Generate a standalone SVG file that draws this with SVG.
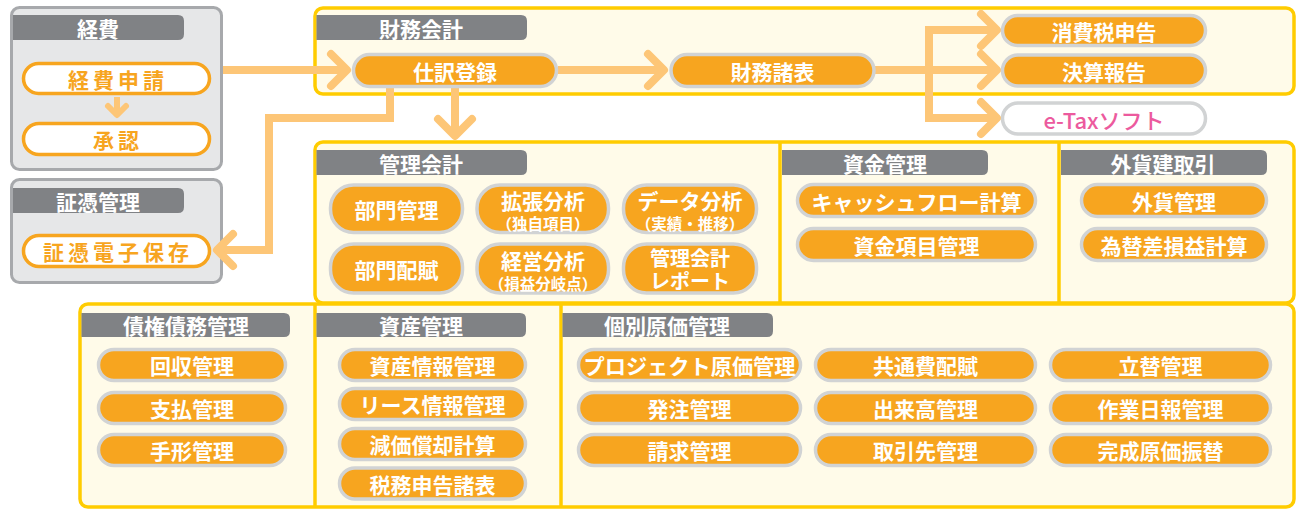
<svg xmlns="http://www.w3.org/2000/svg" width="1298" height="509" viewBox="0 0 1298 509">
<style>
text{font-family:"Noto Sans CJK JP","Noto Sans",sans-serif;font-weight:700;text-anchor:middle;dominant-baseline:central}
.gpanel{fill:#e6e7e8;stroke:#a7a9ac;stroke-width:3}
.ypanel{fill:#fffbe9;stroke:#ffcc00;stroke-width:3.5}
.div{stroke:#ffcc00;stroke-width:3.5}
.hdr{fill:#808285}
.ht{fill:#fff;font-size:21px}
.pill{fill:#f7a51f;stroke:#d1d3d4;stroke-width:3.5}
.wpill{fill:#fff;stroke:#f7a51f;stroke-width:3.5}
.epill{fill:#fff;stroke:#d1d3d4;stroke-width:3.5}
.pt{fill:#fff;font-size:21px}
.st{fill:#fff;font-size:15.5px}
.ot{fill:#f7a51f;font-size:21px;letter-spacing:4px}
.con{fill:none;stroke:#fdc677;stroke-width:8}
.chev{fill:none;stroke:#fdc677;stroke-width:8;stroke-linecap:round;stroke-linejoin:round}
</style>

<!-- panels -->
<g id="panel-keihi">
<rect class="gpanel" x="11.5" y="7.5" width="210" height="162" rx="8"/>
<path class="hdr" d="M13 15H178Q184 15 184 21V34Q184 40 178 40H13Z"/>
<text class="ht" x="98" y="27.5">経費</text>
</g>
<g id="panel-shohyo">
<rect class="gpanel" x="11.5" y="179.5" width="210" height="103" rx="8"/>
<path class="hdr" d="M13 188H178Q184 188 184 194V207Q184 213 178 213H13Z"/>
<text class="ht" x="98" y="200.5">証憑管理</text>
</g>
<g id="panel-zaimu">
<rect class="ypanel" x="315" y="8" width="979" height="86" rx="8"/>
<path class="hdr" d="M316.5 15H521Q527 15 527 21V34Q527 40 521 40H316.5Z"/>
<text class="ht" x="421" y="27.5">財務会計</text>
</g>
<g id="panel-middle">
<rect class="ypanel" x="315" y="142" width="979" height="161" rx="8"/>
<line class="div" x1="780" y1="142" x2="780" y2="303"/>
<line class="div" x1="1059" y1="142" x2="1059" y2="303"/>
</g>
<g id="panel-bottom">
<rect class="ypanel" x="80" y="304" width="1214" height="203" rx="8"/>
<line class="div" x1="315" y1="304" x2="315" y2="507"/>
<line class="div" x1="561" y1="304" x2="561" y2="507"/>
</g>
<g id="hdr-kanri">
<path class="hdr" d="M316.5 150H521Q527 150 527 156V169Q527 175 521 175H316.5Z"/>
<text class="ht" x="421" y="162.5">管理会計</text>
</g>
<g id="hdr-shikin">
<path class="hdr" d="M782 150H982Q988 150 988 156V169Q988 175 982 175H782Z"/>
<text class="ht" x="885" y="162.5">資金管理</text>
</g>
<g id="hdr-gaika">
<path class="hdr" d="M1061 150H1261Q1267 150 1267 156V169Q1267 175 1261 175H1061Z"/>
<text class="ht" x="1163" y="162.5">外貨建取引</text>
</g>
<g id="hdr-saiken">
<path class="hdr" d="M81.5 313H284Q290 313 290 319V331Q290 337 284 337H81.5Z"/>
<text class="ht" x="186" y="325">債権債務管理</text>
</g>
<g id="hdr-shisan">
<path class="hdr" d="M316.5 313H520Q526 313 526 319V331Q526 337 520 337H316.5Z"/>
<text class="ht" x="421" y="325">資産管理</text>
</g>
<g id="hdr-kobetsu">
<path class="hdr" d="M562.5 313H767Q773 313 773 319V331Q773 337 767 337H562.5Z"/>
<text class="ht" x="667" y="325">個別原価管理</text>
</g>

<!-- connectors -->
<g id="connectors">
<path class="con" d="M223 70H344"/>
<path class="chev" d="M331 54L347 70L331 86"/>
<path class="con" d="M558 70H661"/>
<path class="chev" d="M648 54L664 70L648 86"/>
<path class="con" d="M874 70H994"/>
<path class="con" d="M994 30H929V118H994"/>
<path class="chev" d="M981 14L997 30L981 46"/>
<path class="chev" d="M981 54L997 70L981 86"/>
<path class="chev" d="M981 102L997 118L981 134"/>
<path class="con" d="M455 88V133"/>
<path class="chev" d="M438 119L455 136L472 119"/>
<path class="con" d="M390 88V118H269V250H221"/>
<path class="chev" d="M233 234L217 250L233 266"/>
<path class="con" d="M117 97V112" style="stroke-width:6"/>
<path class="chev" d="M108 106L117 115L126 106" style="stroke-width:6"/>
</g>

<!-- pills -->
<g id="n-keihishinsei"><rect class="wpill" x="23.5" y="63.5" width="186" height="30" rx="15"/><text class="ot" x="118" y="78.5">経費申請</text></g>
<g id="n-shonin"><rect class="wpill" x="23.5" y="123.5" width="186" height="31" rx="15.5"/><text class="ot" x="118" y="139">承認</text></g>
<g id="n-denshi"><rect class="wpill" x="23.5" y="235.5" width="186" height="31" rx="15.5"/><text class="ot" x="118" y="251">証憑電子保存</text></g>

<g id="n-shiwake"><rect class="pill" x="353.5" y="54.5" width="203" height="32" rx="16"/><text class="pt" x="455" y="70.5">仕訳登録</text></g>
<g id="n-shohyo"><rect class="pill" x="671" y="54.5" width="203" height="32" rx="16"/><text class="pt" x="772.5" y="70.5">財務諸表</text></g>
<g id="n-shohizei"><rect class="pill" x="1002.5" y="15.5" width="203" height="30" rx="15"/><text class="pt" x="1104" y="30.5">消費税申告</text></g>
<g id="n-kessan"><rect class="pill" x="1002.5" y="55" width="203" height="31" rx="15.5"/><text class="pt" x="1104" y="70.5">決算報告</text></g>
<g id="n-etax"><rect class="epill" x="1002.5" y="103" width="203" height="31" rx="15.5"/><text x="1104" y="118.5" style="fill:#ec5a9e;font-size:22px;font-weight:500">e-Taxソフト</text></g>

<g id="n-bumon"><rect class="pill" x="330.5" y="185" width="132" height="47.5" rx="23"/><text class="pt" x="396.5" y="209">部門管理</text></g>
<g id="n-kakucho"><rect class="pill" x="477" y="185" width="131.5" height="47.5" rx="23"/><text class="pt" x="543" y="199.5">拡張分析</text><text class="st" x="543" y="223">（独自項目）</text></g>
<g id="n-data"><rect class="pill" x="623.5" y="185" width="133" height="47.5" rx="23"/><text class="pt" x="690" y="199.5">データ分析</text><text class="st" x="690" y="223">（実績・推移）</text></g>
<g id="n-haifu"><rect class="pill" x="330.5" y="244" width="132" height="49" rx="23"/><text class="pt" x="396.5" y="268.5">部門配賦</text></g>
<g id="n-keiei"><rect class="pill" x="477" y="244" width="131.5" height="49" rx="23"/><text class="pt" x="543" y="259.5">経営分析</text><text class="st" x="543" y="283">（損益分岐点）</text></g>
<g id="n-report"><rect class="pill" x="623.5" y="244" width="133" height="49" rx="23"/><text class="pt" style="font-size:20px"><tspan x="690" y="257">管理会計</tspan><tspan x="690" y="280">レポート</tspan></text></g>

<g id="n-cf"><rect class="pill" x="797.5" y="184.5" width="238" height="32" rx="16"/><text class="pt" x="916.5" y="200.5">キャッシュフロー計算</text></g>
<g id="n-shikinkomoku"><rect class="pill" x="797.5" y="228.5" width="238" height="32" rx="16"/><text class="pt" x="916.5" y="244.5">資金項目管理</text></g>
<g id="n-gaika"><rect class="pill" x="1081.5" y="184.5" width="185" height="32" rx="16"/><text class="pt" x="1174" y="200.5">外貨管理</text></g>
<g id="n-kawase"><rect class="pill" x="1081.5" y="228.5" width="185" height="32" rx="16"/><text class="pt" x="1174" y="244.5">為替差損益計算</text></g>

<g id="n-kaishu"><rect class="pill" x="98.5" y="349.5" width="187" height="31" rx="15.5"/><text class="pt" x="192" y="365">回収管理</text></g>
<g id="n-shiharai"><rect class="pill" x="98.5" y="392.5" width="187" height="31" rx="15.5"/><text class="pt" x="192" y="408">支払管理</text></g>
<g id="n-tegata"><rect class="pill" x="98.5" y="434.5" width="187" height="31" rx="15.5"/><text class="pt" x="192" y="450">手形管理</text></g>

<g id="n-shisanjoho"><rect class="pill" x="339.5" y="349.5" width="186" height="31" rx="15.5"/><text class="pt" x="432.5" y="365">資産情報管理</text></g>
<g id="n-lease"><rect class="pill" x="339.5" y="388.5" width="186" height="31" rx="15.5"/><text class="pt" x="432.5" y="404">リース情報管理</text></g>
<g id="n-genka"><rect class="pill" x="339.5" y="428.5" width="186" height="31" rx="15.5"/><text class="pt" x="432.5" y="444">減価償却計算</text></g>
<g id="n-zeimu"><rect class="pill" x="339.5" y="468" width="186" height="31" rx="15.5"/><text class="pt" x="432.5" y="483.5">税務申告諸表</text></g>

<g id="n-project"><rect class="pill" x="578.5" y="349.5" width="222" height="31" rx="15.5"/><text class="pt" x="689.5" y="365" textLength="212" lengthAdjust="spacingAndGlyphs">プロジェクト原価管理</text></g>
<g id="n-kyotsu"><rect class="pill" x="815.5" y="349.5" width="220" height="31" rx="15.5"/><text class="pt" x="925.5" y="365">共通費配賦</text></g>
<g id="n-tatekae"><rect class="pill" x="1050.5" y="349.5" width="220" height="31" rx="15.5"/><text class="pt" x="1160.5" y="365">立替管理</text></g>
<g id="n-hatchu"><rect class="pill" x="578.5" y="392.5" width="222" height="31" rx="15.5"/><text class="pt" x="689.5" y="408">発注管理</text></g>
<g id="n-dekidaka"><rect class="pill" x="815.5" y="392.5" width="220" height="31" rx="15.5"/><text class="pt" x="925.5" y="408">出来高管理</text></g>
<g id="n-sagyo"><rect class="pill" x="1050.5" y="392.5" width="220" height="31" rx="15.5"/><text class="pt" x="1160.5" y="408">作業日報管理</text></g>
<g id="n-seikyu"><rect class="pill" x="578.5" y="434.5" width="222" height="31" rx="15.5"/><text class="pt" x="689.5" y="450">請求管理</text></g>
<g id="n-torihiki"><rect class="pill" x="815.5" y="434.5" width="220" height="31" rx="15.5"/><text class="pt" x="925.5" y="450">取引先管理</text></g>
<g id="n-kansei"><rect class="pill" x="1050.5" y="434.5" width="220" height="31" rx="15.5"/><text class="pt" x="1160.5" y="450">完成原価振替</text></g>
</svg>
